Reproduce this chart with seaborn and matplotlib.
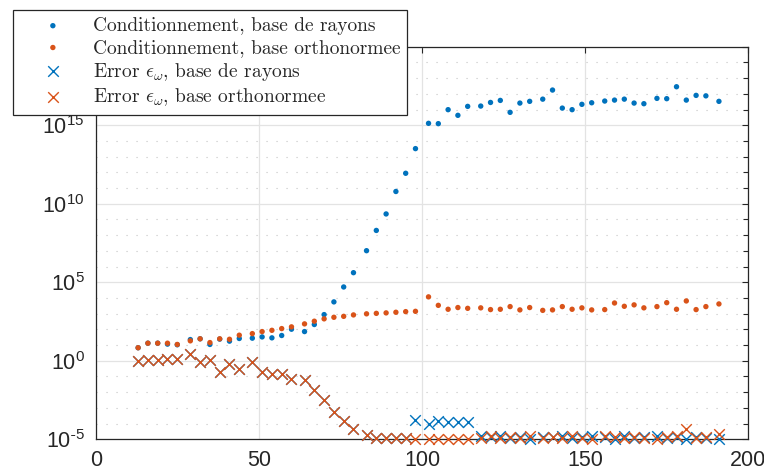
import numpy as np
import pandas as pd
import matplotlib
matplotlib.use("Agg")
import matplotlib.pyplot as plt
import matplotlib.ticker as mticker
import seaborn as sns

# ---------------- data ----------------
x_vals = [13, 16, 19, 22, 25, 29, 32, 35, 38, 41, 44, 48, 51, 54, 57, 60, 64, 67, 70, 73,
          76, 79, 83, 86, 89, 92, 95, 98, 102, 105, 108, 111, 114, 118, 121, 124, 127, 130,
          133, 137, 140, 143, 146, 149, 152, 156, 159, 162, 165, 168, 172, 175, 178, 181,
          184, 187, 191]

# log10 of the condition numbers
cond_rayons_log = [0.83, 1.12, 1.12, 1.06, 1.02, 1.35, 1.40, 1.04, 1.38, 1.25, 1.42, 1.44,
                   1.52, 1.46, 1.61, 2.01, 1.86, 2.31, 2.94, 3.75, 4.70, 5.61, 7.01, 8.30,
                   9.35, 10.78, 11.94, 13.51, 15.12, 15.10, 15.99, 15.63, 16.20, 16.22, 16.45,
                   16.58, 15.82, 16.41, 16.52, 16.66, 17.24, 16.09, 15.99, 16.33, 16.43, 16.54,
                   16.60, 16.66, 16.41, 16.37, 16.71, 16.69, 17.45, 16.60, 16.90, 16.87, 16.52]
cond_ortho_log = [0.83, 1.12, 1.12, 1.12, 1.04, 1.27, 1.40, 1.16, 1.40, 1.37, 1.63, 1.73,
                  1.86, 1.94, 2.05, 2.16, 2.35, 2.52, 2.67, 2.77, 2.83, 2.92, 2.99, 3.02,
                  3.05, 3.09, 3.13, 3.15, 4.07, 3.53, 3.28, 3.39, 3.34, 3.37, 3.26, 3.28,
                  3.45, 3.24, 3.39, 3.21, 3.24, 3.45, 3.28, 3.37, 3.24, 3.26, 3.68, 3.47,
                  3.56, 3.37, 3.45, 3.70, 3.28, 3.81, 3.26, 3.45, 3.62]
# log10 of the errors
err_rayons_log = [-0.02, 0.04, 0.04, 0.13, 0.13, 0.42, -0.09, 0.04, -0.70, -0.19, -0.53,
                  -0.09, -0.70, -0.81, -0.81, -1.14, -1.23, -1.89, -2.50, -3.24, -3.84,
                  -4.37, -4.75, -4.89, -4.90, -4.90, -4.92, -3.77, -4.05, -3.84, -3.90,
                  -3.90, -3.90, -4.82, -4.86, -4.80, -4.92, -4.85, -4.95, -4.83, -4.88,
                  -4.80, -4.93, -4.86, -4.82, -4.84, -4.95, -4.80, -4.90, -4.85, -4.82,
                  -4.92, -4.86, -4.95, -4.83, -4.90, -4.96]
err_ortho_log = [-0.02, 0.04, 0.04, 0.13, 0.13, 0.42, -0.09, 0.04, -0.70, -0.19, -0.53,
                 -0.09, -0.70, -0.81, -0.81, -1.14, -1.23, -1.89, -2.50, -3.24, -3.84,
                 -4.37, -4.75, -4.89, -4.90, -4.90, -4.92, -4.97, -4.97, -4.97, -4.97,
                 -4.97, -4.97, -4.90, -4.80, -4.93, -4.84, -4.92, -4.82, -4.90, -4.85,
                 -4.93, -4.82, -4.90, -4.95, -4.80, -4.88, -4.93, -4.83, -4.90, -4.95,
                 -4.85, -4.80, -4.37, -4.92, -4.85, -4.68]

labels = ["Conditionnement, base de rayons",
          "Conditionnement, base orthonormee",
          r"Error $\epsilon_\omega$, base de rayons",
          r"Error $\epsilon_\omega$, base orthonormee"]

y_major = [1e-5, 1e0, 1e5, 1e10, 1e15, 1e20]
y_minor = [10.0 ** k for k in range(-5, 21)]
x_ticks = [0, 50, 100, 150, 200]

BLUE = "#0072BD"
ORANGE = "#D95319"
AX_COL = "#262626"

# ---------------- style ----------------
sns.set_style("white")
plt.rcParams["font.family"] = ["Liberation Sans", "DejaVu Sans"]
plt.rcParams["mathtext.fontset"] = "cm"

fig = plt.figure(figsize=(7.64, 4.75), dpi=100)
W, H = 764, 475
ax = fig.add_axes([95.7 / W, 1 - 439.3 / H, (748.3 - 95.7) / W, (439.3 - 46.7) / H])

x = np.array(x_vals, dtype=float)
series = [
    (np.power(10.0, cond_rayons_log), BLUE, "o", 15, labels[0]),
    (np.power(10.0, cond_ortho_log), ORANGE, "o", 15, labels[1]),
    (np.power(10.0, err_rayons_log), BLUE, "x", 58, labels[2]),
    (np.power(10.0, err_ortho_log), ORANGE, "x", 58, labels[3]),
]
for yv, col, mk, s, lab in series:
    if mk == "o":
        sns.scatterplot(x=x, y=yv, color=col, marker="o", s=s, edgecolor="none",
                        linewidth=0, label=lab, ax=ax, clip_on=False, zorder=3)
    else:
        sns.scatterplot(x=x, y=yv, color=col, marker="x", s=s, linewidth=1.0,
                        label=lab, ax=ax, clip_on=False, zorder=3)

ax.set_yscale("log")
ax.set_xlim(0, 200)
ax.set_ylim(1e-5, 1e20)
ax.xaxis.set_major_locator(mticker.FixedLocator(x_ticks))
ax.xaxis.set_minor_locator(mticker.NullLocator())
ax.yaxis.set_major_locator(mticker.FixedLocator(y_major))
ax.yaxis.set_minor_locator(mticker.FixedLocator(y_minor))
ax.yaxis.set_minor_formatter(mticker.NullFormatter())


def ylab(v, p):
    e = int(round(np.log10(v)))
    if e < 0:
        return r"$\mathregular{10^{\text{-}%d}}$" % (-e)
    return r"$\mathregular{10^{%d}}$" % e


ax.yaxis.set_major_formatter(mticker.FuncFormatter(ylab))
ax.xaxis.set_major_formatter(mticker.FuncFormatter(lambda v, p: "%d" % v))

ax.grid(True, which="major", color="#e3e3e3", linewidth=0.9, linestyle="-")
ax.grid(True, which="minor", axis="y", color="#c4c4c4", linewidth=0.8,
        linestyle=(0, (1, 8)))
ax.set_axisbelow(True)

for sp in ax.spines.values():
    sp.set_color(AX_COL)
    sp.set_linewidth(0.9)
ax.tick_params(which="both", direction="in", top=True, right=True,
               color=AX_COL, width=0.8)
ax.tick_params(which="major", length=4.5, labelsize=15.5, labelcolor=AX_COL, pad=8)
ax.tick_params(which="minor", length=3.5)
ax.set_xlabel("")
ax.set_ylabel("")

leg = ax.legend(loc="upper left", bbox_to_anchor=(13 / W, 1 - 10 / H),
                bbox_transform=fig.transFigure, frameon=True, fancybox=False,
                edgecolor=AX_COL, framealpha=1, facecolor="white",
                prop={"family": "cmr10", "size": 14}, borderaxespad=0,
                borderpad=0.35, handlelength=3.4, handletextpad=0.35,
                labelspacing=0.2, markerscale=1.0)
leg.get_frame().set_linewidth(0.9)
leg.set_zorder(10)

fig.savefig("out.png", dpi=100)
